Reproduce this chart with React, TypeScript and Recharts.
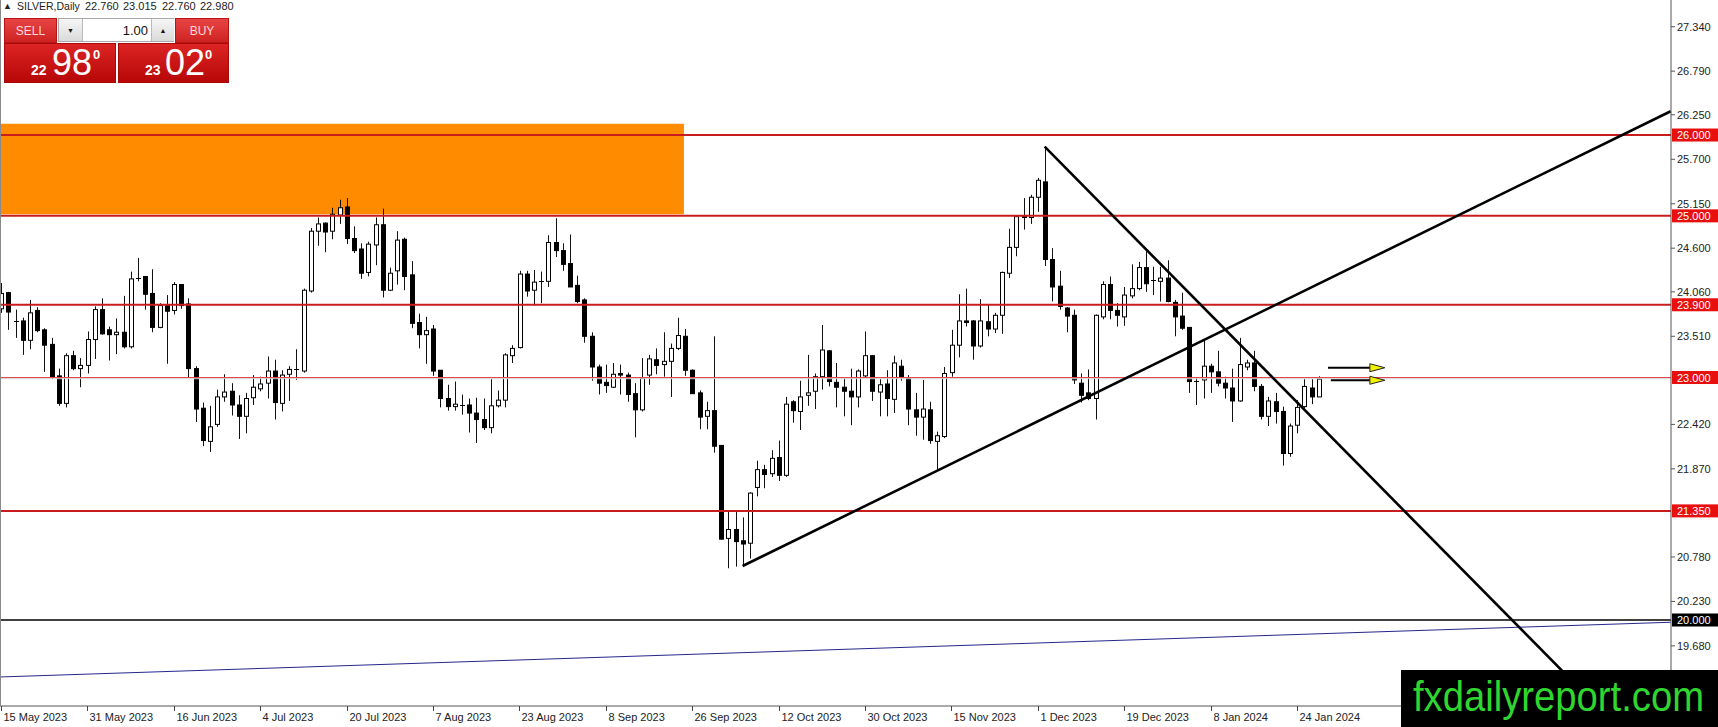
import React from 'react';
import { ComposedChart, Bar, XAxis, YAxis, ReferenceLine, ReferenceArea } from 'recharts';

// ---- daily candles, bar 0 = 15 May 2023 ----
const opens = [
  23.85, 24.05, 23.70, 23.70, 23.46, 23.83, 23.59, 23.41, 23.02, 22.68,
  23.27, 23.11, 23.15, 23.47, 23.84, 23.59, 23.53, 23.56, 23.38, 24.23,
  24.25, 24.04, 23.62, 23.89, 23.83, 24.15, 23.91, 23.11, 22.62, 22.21,
  22.42, 22.76, 22.83, 22.66, 22.52, 22.75, 22.86, 22.93, 23.08, 22.68,
  23.04, 23.09, 23.08, 24.07, 24.81, 24.91, 24.81, 25.01, 25.11, 24.72,
  24.59, 24.30, 24.64, 24.89, 24.08, 24.32, 24.71, 24.27, 23.68, 23.53,
  23.60, 23.09, 22.74, 22.64, 22.665, 22.66, 22.56, 22.48, 22.38, 22.65,
  22.72, 23.27, 23.37, 24.28, 24.08, 24.19, 24.19, 24.67, 24.57, 24.41,
  24.14, 23.96, 23.51, 23.13, 22.94, 22.88, 23.05, 23.03, 22.80, 22.60,
  23.03, 23.22, 23.16, 23.20, 23.36, 23.51, 23.09, 22.81, 22.52, 22.59,
  22.16, 21.01, 21.12, 20.98, 20.95, 21.64, 21.86, 21.81, 22.01, 21.79,
  22.70, 22.58, 22.78, 22.83, 23.01, 23.33, 22.94, 22.88, 22.83, 22.76,
  23.02, 23.27, 22.82, 22.92, 22.73, 23.14, 23.00, 22.60, 22.51, 22.60,
  22.21, 22.27, 23.06, 23.40, 23.70, 23.70, 23.39, 23.69, 23.60, 23.77,
  24.29, 24.61, 25.00, 24.98, 25.23, 25.42, 24.46, 24.13, 23.86, 23.77,
  22.93, 22.81, 22.74, 23.75, 24.15, 23.83, 23.75, 24.01, 24.10, 24.36,
  24.21, 24.19, 24.23, 23.93, 23.76, 23.62, 22.96, 22.97, 23.14, 23.07,
  22.93, 22.87, 22.71, 23.13, 23.18, 22.89, 22.52, 22.70, 22.58, 22.06,
  22.41, 22.64, 22.87, 22.76,
];
const highs = [
  24.17, 24.06, 23.84, 23.74, 23.96, 23.87, 23.61, 23.49, 23.11, 23.30,
  23.33, 23.24, 23.57, 23.88, 23.98, 23.63, 23.73, 24.01, 24.31, 24.48,
  24.25, 24.34, 23.92, 24.02, 24.18, 24.15, 23.98, 23.14, 22.69, 22.65,
  22.85, 23.04, 22.93, 22.78, 22.81, 23.03, 23.01, 23.26, 23.22, 23.09,
  23.14, 23.35, 24.10, 24.85, 24.98, 24.92, 25.10, 25.20, 25.22, 24.87,
  24.66, 24.68, 24.98, 25.09, 24.36, 24.81, 24.73, 24.44, 23.79, 23.75,
  23.65, 23.09, 22.91, 22.95, 22.79, 22.74, 22.75, 22.74, 22.98, 22.84,
  23.30, 23.40, 24.32, 24.32, 24.33, 24.31, 24.76, 24.97, 24.66, 24.77,
  24.26, 23.98, 23.56, 23.16, 23.16, 23.18, 23.16, 23.06, 22.93, 23.24,
  23.28, 23.36, 23.56, 23.42, 23.74, 23.60, 23.10, 22.84, 22.70, 23.51,
  22.16, 21.35, 21.35, 21.27, 21.58, 21.97, 21.92, 22.10, 22.22, 22.76,
  22.72, 22.96, 23.28, 23.05, 23.65, 23.34, 23.18, 22.99, 23.11, 23.10,
  23.57, 23.28, 22.98, 23.09, 23.27, 23.22, 23.03, 22.81, 22.97, 22.70,
  22.33, 23.13, 23.59, 24.03, 24.10, 23.71, 23.97, 23.91, 23.80, 24.31,
  24.84, 25.00, 25.22, 25.26, 25.47, 25.86, 24.60, 24.32, 23.87, 23.84,
  23.05, 23.10, 23.78, 24.19, 24.25, 23.92, 24.12, 24.40, 24.43, 24.56,
  24.37, 24.37, 24.45, 23.96, 24.05, 23.62, 22.99, 23.46, 23.17, 23.33,
  23.01, 23.11, 23.49, 23.22, 23.33, 22.92, 22.76, 22.81, 22.64, 22.43,
  22.72, 22.98, 22.98, 23.015,
];
const lows = [
  23.80, 23.59, 23.49, 23.28, 23.35, 23.56, 23.07, 22.98, 22.65, 22.63,
  23.09, 22.88, 23.05, 23.23, 23.53, 23.21, 23.29, 23.36, 23.36, 24.19,
  23.84, 23.56, 23.61, 23.17, 23.78, 23.85, 23.00, 22.45, 22.15, 22.08,
  22.39, 22.70, 22.53, 22.24, 22.31, 22.66, 22.83, 22.74, 22.48, 22.58,
  22.71, 22.97, 23.06, 24.05, 24.63, 24.55, 24.71, 24.90, 24.65, 24.54,
  24.22, 24.25, 24.39, 23.99, 24.07, 24.15, 24.08, 23.61, 23.36, 23.17,
  23.02, 22.63, 22.59, 22.59, 22.54, 22.32, 22.19, 22.35, 22.31, 22.63,
  22.63, 23.18, 23.36, 24.00, 23.89, 23.92, 24.12, 24.49, 24.32, 24.12,
  23.92, 23.43, 22.96, 22.79, 22.81, 22.87, 22.79, 22.70, 22.26, 22.58,
  22.91, 23.04, 23.01, 22.76, 23.34, 23.02, 22.80, 22.36, 22.36, 22.07,
  21.00, 20.64, 20.66, 20.67, 20.76, 21.53, 21.63, 21.77, 21.72, 21.77,
  22.44, 22.35, 22.65, 22.61, 22.85, 22.89, 22.63, 22.52, 22.41, 22.63,
  23.00, 22.71, 22.52, 22.52, 22.56, 22.96, 22.41, 22.28, 22.23, 22.18,
  21.86, 22.25, 23.01, 23.25, 23.63, 23.22, 23.37, 23.51, 23.55, 23.54,
  24.23, 24.50, 24.83, 24.90, 25.05, 24.38, 23.94, 23.84, 23.56, 22.92,
  22.69, 22.72, 22.48, 23.72, 23.72, 23.63, 23.64, 23.98, 24.08, 24.06,
  24.02, 23.94, 23.93, 23.51, 23.59, 22.81, 22.66, 22.74, 22.81, 22.89,
  22.74, 22.45, 22.70, 23.09, 22.83, 22.48, 22.40, 22.43, 21.91, 22.02,
  22.31, 22.62, 22.67, 22.76,
];
const closes = [
  24.04, 23.81, 23.69, 23.46, 23.80, 23.58, 23.40, 23.00, 22.68, 23.27,
  23.11, 23.15, 23.47, 23.84, 23.54, 23.53, 23.56, 23.38, 24.22, 24.22,
  24.03, 23.62, 23.89, 23.82, 24.15, 23.89, 23.11, 22.61, 22.22, 22.39,
  22.76, 22.82, 22.66, 22.52, 22.74, 22.88, 22.92, 23.08, 22.69, 23.03,
  23.10, 23.10, 24.08, 24.81, 24.90, 24.80, 25.02, 25.10, 24.72, 24.57,
  24.29, 24.65, 24.89, 24.08, 24.29, 24.70, 24.25, 23.67, 23.53, 23.58,
  23.08, 22.74, 22.64, 22.67, 22.655, 22.56, 22.48, 22.38, 22.65, 22.72,
  23.28, 23.36, 24.28, 24.07, 24.18, 24.18, 24.67, 24.57, 24.40, 24.12,
  23.94, 23.51, 23.13, 22.93, 22.90, 23.04, 23.03, 22.79, 22.60, 22.99,
  23.23, 23.15, 23.20, 23.36, 23.52, 23.09, 22.80, 22.51, 22.59, 22.15,
  21.00, 21.12, 20.97, 20.94, 21.57, 21.86, 21.80, 22.00, 21.79, 22.67,
  22.59, 22.76, 22.81, 23.01, 23.34, 22.95, 22.88, 22.83, 22.76, 23.08,
  23.27, 22.83, 22.91, 22.74, 23.18, 23.01, 22.61, 22.51, 22.61, 22.22,
  22.28, 23.05, 23.40, 23.70, 23.68, 23.39, 23.70, 23.60, 23.77, 24.30,
  24.61, 24.99, 24.98, 25.23, 25.44, 24.46, 24.12, 23.88, 23.76, 22.97,
  22.78, 22.74, 23.77, 24.15, 23.83, 23.77, 24.02, 24.10, 24.36, 24.16,
  24.20, 24.23, 23.94, 23.75, 23.61, 22.95, 22.95, 23.14, 23.07, 22.93,
  22.87, 22.71, 23.16, 23.18, 22.89, 22.52, 22.71, 22.58, 22.06, 22.40,
  22.63, 22.89, 22.76, 22.98,
];

// ---- axes ----
const dateTickBars = [0, 12, 24, 36, 48, 60, 72, 84, 96, 108, 120, 132, 144, 156, 168, 180];
const dateTickLabels = [
  '15 May 2023', '31 May 2023', '16 Jun 2023', '4 Jul 2023', '20 Jul 2023', '7 Aug 2023',
  '23 Aug 2023', '8 Sep 2023', '26 Sep 2023', '12 Oct 2023', '30 Oct 2023', '15 Nov 2023',
  '1 Dec 2023', '19 Dec 2023', '8 Jan 2024', '24 Jan 2024',
];
const priceTicks = [19.68, 20.23, 20.78, 21.87, 22.42, 23.51, 24.06, 24.6, 25.15, 25.7, 26.25, 26.79, 27.34];
const xDomain = [-0.139, 231.94];
const yDomain = [18.936, 27.6705];

// ---- drawings ----
const redLevels = [26, 25, 23.9, 21.35];
const thinLevel = 23;
const blackLevel = 20;
const zoneBars = [-0.139, 94.85];
const zonePrices = [25.02, 26.14];
const risingLine = [[103, 20.668], [231.9, 26.294]];
const fallingLine = [[144.95, 25.856], [221.6, 18.94]];
const baseLine = [[-0.139, 19.295], [231.9, 19.972]];
const arrowLevels = [23.121, 22.966];
const arrowBars = [[184.3, 192.2], [184.7, 192.2]];

const data = opens.map((o, i) => ({ i, o, h: highs[i], l: lows[i], c: closes[i] }));

const FONT = '"Liberation Sans", Arial, sans-serif';

function Candle(props: any) {
  const { x, y, width, height, payload } = props;
  if (x == null || y == null || !payload) return null;
  const { o, h, l, c } = payload;
  const top = Math.min(y, y + height);
  const bot = Math.max(y, y + height);
  const span = h - l || 1;
  const py = (v: number) => top + ((h - v) / span) * (bot - top);
  const cx = Math.round(x + width / 2) + 0.5;
  const bull = c >= o;
  const yo = py(o);
  const yc = py(c);
  const bt = Math.min(yo, yc);
  const bb = Math.max(yo, yc);
  return (
    <g>
      <line x1={cx} x2={cx} y1={top} y2={bot} stroke="#111" strokeWidth={1} />
      {bb - bt < 1.2 ? (
        <line x1={cx - 2.5} x2={cx + 2.5} y1={Math.round(bt) + 0.5} y2={Math.round(bt) + 0.5} stroke="#000" strokeWidth={1} />
      ) : (
        <rect x={cx - 2} y={bt} width={4} height={bb - bt} fill={bull ? '#fff' : '#000'} stroke="#000" strokeWidth={1} />
      )}
    </g>
  );
}

function makeLevel(color: string, w: number, tagBg: string, value: number, shadow?: string) {
  return (props: any) => {
    const { x1, y1, x2 } = props;
    if (x1 == null) return null;
    const left = Math.min(x1, x2);
    const right = Math.max(x1, x2);
    return (
      <g>
        {shadow ? <line x1={left} x2={right} y1={y1 + 1.2} y2={y1 + 1.2} stroke={shadow} strokeWidth={1} /> : null}
        <line x1={left} x2={right} y1={y1} y2={y1} stroke={color} strokeWidth={w} />
        <rect x={right + 1} y={y1 - 6.5} width={46} height={13} fill={tagBg} />
        <text x={right + 6} y={y1 + 4} fontSize={11} fontFamily={FONT} fill="#fff">
          {value.toFixed(3)}
        </text>
      </g>
    );
  };
}

function ArrowShape(props: any) {
  const { x1, y1, x2 } = props;
  if (x1 == null) return null;
  const left = Math.min(x1, x2);
  const right = Math.max(x1, x2);
  const head = 15;
  return (
    <g>
      <line x1={left} x2={right - head} y1={y1} y2={y1} stroke="#000" strokeWidth={2} />
      <polygon
        points={`${right - head},${y1 - 4} ${right},${y1} ${right - head},${y1 + 4}`}
        fill="#f2f200"
        stroke="#222"
        strokeWidth={1}
      />
    </g>
  );
}

function DateTick(props: any) {
  const { x, y, payload } = props;
  const idx = dateTickBars.indexOf(payload.value);
  if (idx < 0) return null;
  const px = Math.round(x) + 0.5;
  return (
    <g>
      <line x1={px} x2={px} y1={y} y2={y + 5} stroke="#444" strokeWidth={1} />
      <text x={px + 2} y={y + 14.5} fontSize={11} fontFamily={FONT} fill="#222" textAnchor="start">
        {dateTickLabels[idx]}
      </text>
    </g>
  );
}

const abs = (o: React.CSSProperties): React.CSSProperties => ({ position: 'absolute', ...o });

function TradePanel() {
  const btn: React.CSSProperties = {
    background: 'linear-gradient(#e84444, #cf2323)',
    color: '#ffd9d9',
    fontSize: 12,
    fontFamily: FONT,
    display: 'flex',
    alignItems: 'center',
    justifyContent: 'center',
    boxSizing: 'border-box',
    border: '1px solid #b81414',
  };
  const box: React.CSSProperties = {
    background: 'linear-gradient(#dc2424, #b70707)',
    boxSizing: 'border-box',
    border: '1px solid #a80a0a',
  };
  const white = '#ffffff';
  return (
    <div style={abs({ left: 0, top: 0, width: 240, height: 90, fontFamily: FONT })}>
      <span style={abs({ left: 3, top: 2, fontSize: 9, color: '#222', lineHeight: '9px' })}>▲</span>
      <span style={abs({ left: 17, top: 1, fontSize: 10.5, color: '#222', lineHeight: '11px' })}>SILVER,Daily</span>
      <span style={abs({ left: 85, top: 1, fontSize: 11, color: '#222', lineHeight: '11px' })}>22.760</span>
      <span style={abs({ left: 123, top: 1, fontSize: 11, color: '#222', lineHeight: '11px' })}>23.015</span>
      <span style={abs({ left: 162, top: 1, fontSize: 11, color: '#222', lineHeight: '11px' })}>22.760</span>
      <span style={abs({ left: 200, top: 1, fontSize: 11, color: '#222', lineHeight: '11px' })}>22.980</span>

      <div style={abs({ left: 4, top: 18, width: 53, height: 25, ...btn })}>SELL</div>
      <div style={abs({ left: 58, top: 18, width: 116, height: 24, border: '1px solid #a9a9a9', boxSizing: 'border-box', background: '#fff' })}>
        <div style={abs({ left: 0, top: 0, width: 23, height: 22, background: 'linear-gradient(#f6f6f6, #dadada)', borderRight: '1px solid #bbb', fontSize: 7, color: '#111', display: 'flex', alignItems: 'center', justifyContent: 'center' })}>▼</div>
        <div style={abs({ left: 24, top: 0, width: 65, height: 22, fontSize: 13, color: '#111', display: 'flex', alignItems: 'center', justifyContent: 'flex-end' })}>1.00</div>
        <div style={abs({ left: 92, top: 0, width: 22, height: 22, background: 'linear-gradient(#f6f6f6, #dadada)', borderLeft: '1px solid #bbb', fontSize: 7, color: '#111', display: 'flex', alignItems: 'center', justifyContent: 'center' })}>▲</div>
      </div>
      <div style={abs({ left: 175, top: 18, width: 54, height: 25, ...btn })}>BUY</div>

      <div style={abs({ left: 4, top: 43, width: 112, height: 40, ...box })} />
      <div style={abs({ left: 118, top: 43, width: 111, height: 40, ...box })} />

      <span style={abs({ left: 31, top: 63, fontSize: 14, fontWeight: 'bold', color: white, lineHeight: '14px' })}>22</span>
      <span style={abs({ left: 52, top: 44.5, fontSize: 36, color: white, lineHeight: '36px' })}>98</span>
      <span style={abs({ left: 93, top: 48, fontSize: 13, fontWeight: 'bold', color: white, lineHeight: '13px' })}>0</span>

      <span style={abs({ left: 145, top: 63, fontSize: 14, fontWeight: 'bold', color: white, lineHeight: '14px' })}>23</span>
      <span style={abs({ left: 165, top: 44.5, fontSize: 36, color: white, lineHeight: '36px' })}>02</span>
      <span style={abs({ left: 205, top: 48, fontSize: 13, fontWeight: 'bold', color: white, lineHeight: '13px' })}>0</span>
    </div>
  );
}

export default function App() {
  return (
    <div style={abs({ left: 0, top: 0, width: 1718, height: 727, background: '#fff', overflow: 'hidden' })}>
      <ComposedChart width={1718} height={727} data={data} margin={{ top: 0, right: 0, bottom: 0, left: 0 }}>
        <XAxis
          dataKey="i"
          type="number"
          domain={xDomain}
          allowDataOverflow
          ticks={dateTickBars}
          interval={0}
          height={21}
          tickSize={0}
          tickMargin={0}
          tickLine={false}
          axisLine={{ stroke: '#555', strokeWidth: 1 }}
          tick={<DateTick />}
        />
        <YAxis
          orientation="right"
          type="number"
          domain={yDomain}
          allowDataOverflow
          ticks={priceTicks}
          interval={0}
          width={47}
          tickSize={4}
          tickMargin={2}
          axisLine={{ stroke: '#555', strokeWidth: 1 }}
          tickLine={{ stroke: '#555' }}
          tick={{ fontSize: 11, fill: '#222', fontFamily: FONT, textAnchor: 'start' }}
          tickFormatter={(v: number) => v.toFixed(3)}
        />
        <ReferenceArea
          x1={zoneBars[0]}
          x2={zoneBars[1]}
          y1={zonePrices[0]}
          y2={zonePrices[1]}
          fill="#ff8c00"
          fillOpacity={1}
          stroke="none"
          ifOverflow="visible"
        />
        <ReferenceLine
          segment={[{ x: baseLine[0][0], y: baseLine[0][1] }, { x: baseLine[1][0], y: baseLine[1][1] }]}
          stroke="#26268c"
          strokeWidth={1}
          ifOverflow="visible"
        />
        {redLevels.map((v) => (
          <ReferenceLine key={v} y={v} ifOverflow="visible" shape={makeLevel('#c91c1c', 2, '#e80f0f', v)} />
        ))}
        <ReferenceLine y={thinLevel} ifOverflow="visible" shape={makeLevel('#e04a4a', 1.2, '#e80f0f', thinLevel, '#d6d0d0')} />
        <ReferenceLine y={blackLevel} ifOverflow="visible" shape={makeLevel('#000', 1.5, '#000', blackLevel)} />
        <Bar dataKey={(d: any) => [d.l, d.h]} isAnimationActive={false} shape={<Candle />} />
        <ReferenceLine
          segment={[{ x: risingLine[0][0], y: risingLine[0][1] }, { x: risingLine[1][0], y: risingLine[1][1] }]}
          stroke="#000"
          strokeWidth={2.6}
          ifOverflow="visible"
        />
        <ReferenceLine
          segment={[{ x: fallingLine[0][0], y: fallingLine[0][1] }, { x: fallingLine[1][0], y: fallingLine[1][1] }]}
          stroke="#000"
          strokeWidth={2.6}
          ifOverflow="visible"
        />
        {arrowLevels.map((p, k) => (
          <ReferenceLine
            key={'a' + k}
            segment={[{ x: arrowBars[k][0], y: p }, { x: arrowBars[k][1], y: p }]}
            ifOverflow="visible"
            shape={ArrowShape}
          />
        ))}
      </ComposedChart>
      <div style={abs({ left: 0, top: 0, width: 1, height: 706, background: '#8a8a8a' })} />
      <TradePanel />
      <div style={abs({ left: 1401, top: 670, width: 317, height: 57, background: '#000', overflow: 'hidden' })}>
        <span
          style={abs({
            left: 12,
            top: 3,
            fontSize: 42,
            lineHeight: '48px',
            fontFamily: FONT,
            color: '#2fd62f',
            transform: 'scaleX(0.91)',
            transformOrigin: 'left center',
            whiteSpace: 'nowrap',
          })}
        >
          fxdailyreport.com
        </span>
      </div>
    </div>
  );
}
